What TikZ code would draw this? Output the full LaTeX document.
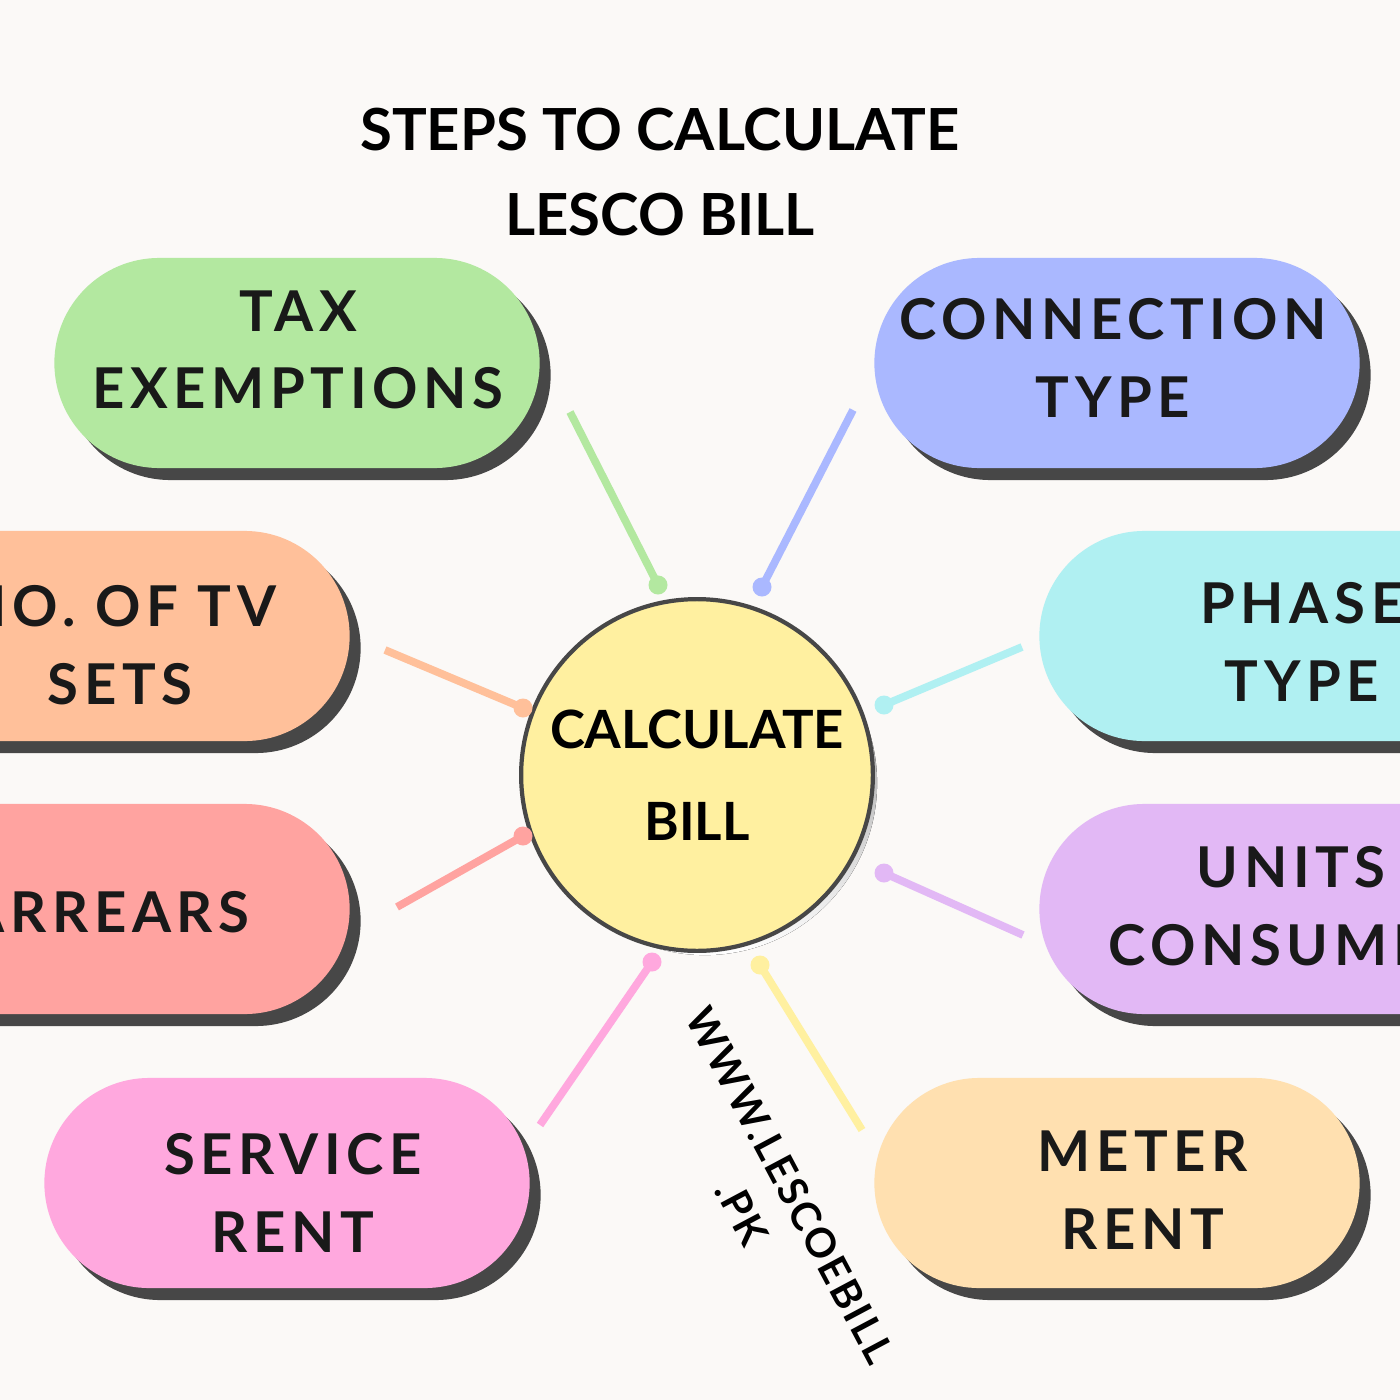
\documentclass[tikz,border=0pt]{standalone}
\usepackage{fontspec}
\setmainfont{Lato}
\newfontfamily\spaced[LetterSpace=10]{Lato}
\newfontfamily\webfont[LetterSpace=6]{Lato}
\definecolor{bg}{HTML}{FBF9F7}
\definecolor{shade}{HTML}{474747}
\definecolor{cgreen}{HTML}{B3E8A0}
\definecolor{cblue}{HTML}{AAB8FF}
\definecolor{corange}{HTML}{FFC09A}
\definecolor{cred}{HTML}{FFA3A0}
\definecolor{cpink}{HTML}{FFA8DE}
\definecolor{ccyan}{HTML}{B0F0F2}
\definecolor{clav}{HTML}{E2B8F5}
\definecolor{cpeach}{HTML}{FFE0B0}
\definecolor{cyellow}{HTML}{FFF0A0}
\tikzset{
  pill/.style={rectangle, rounded corners=1.05cm, minimum width=4.85cm, minimum height=2.1cm, inner sep=0pt},
  pilltext/.style={font=\spaced\bfseries\fontsize{16}{22}\selectfont, align=center, text=black!90},
  link/.style={line width=2.2pt},
  tip/.style={circle, inner sep=0pt, minimum size=0.19cm}
}
\begin{document}
\begin{tikzpicture}[x=0.01cm,y=-0.01cm]
    \useasboundingbox (0,0) rectangle (1400,1400);
    \clip (0,0) rectangle (1400,1400);
    \fill[bg] (0,0) rectangle (1400,1400);
    % title
    \node[font=\bfseries\fontsize{16.5}{24}\selectfont, align=center] (title) at (660,172) {STEPS TO CALCULATE\\LESCO BILL};
    % pills: name/colour/centre x/centre y
    \foreach \n/\c/\x/\y in {tax/cgreen/297/363, conn/cblue/1117/363, tv/corange/107/636, arr/cred/107/909,
        serv/cpink/287/1183, phase/ccyan/1282/636, units/clav/1282/909, meter/cpeach/1117/1183}{
        \node[pill, fill=shade] at (\x+11,\y+12) {};
        \node[pill, fill=\c] (\n) at (\x,\y) {};
    }
    \node[pilltext] (taxt) at (298,350) {TAX\\EXEMPTIONS};
    \node[pilltext] (connt) at (1113,358) {CONNECTION\\TYPE};
    \node[pilltext] (tvt) at (120,645) {NO. OF TV\\SETS};
    \node[pilltext, anchor=east] (arrt) at (262,912) {ARREARS};
    \node[pilltext] (servt) at (293,1193) {SERVICE\\RENT};
    \node[pilltext] (phaset) at (1302,642) {PHASE\\TYPE};
    \node[pilltext] (unitst) at (1291,906) {UNITS\\CONSUMED};
    \node[pilltext] (metert) at (1143,1190) {METER\\RENT};
    % centre
    \fill[shade] (705,783) circle (1.72cm);
    \node[circle, draw=shade, line width=1.2pt, fill=cyellow, minimum size=3.42cm, align=center,
        font=\bfseries\fontsize{15}{26}\selectfont] (calc) at (697,775) {CALCULATE\\BILL};
    % connectors
    \foreach \a/\b/\p/\q/\c in {570/412/658/585/cgreen, 853/410/762/587/cblue, 385/650/523/708/corange,
        1022/647/884/705/ccyan, 397/907/523/836/cred, 1023/935/884/873/clav,
        540/1125/652/962/cpink, 862/1130/760/965/cyellow}{
        \coordinate (from) at (\a,\b);
        \node[tip, fill=\c] (to) at (\p,\q) {};
        \draw[link, \c] (from) -- (to.center);
    }
    % website
    \node[rotate=-62, font=\webfont\bfseries\fontsize{11.5}{14}\selectfont] (web) at (790,1185) {WWW.LESCOEBILL};
    \node[rotate=-62, font=\webfont\bfseries\fontsize{11.5}{14}\selectfont] (webpk) at (742,1213) {.PK};
\end{tikzpicture}
\end{document}
